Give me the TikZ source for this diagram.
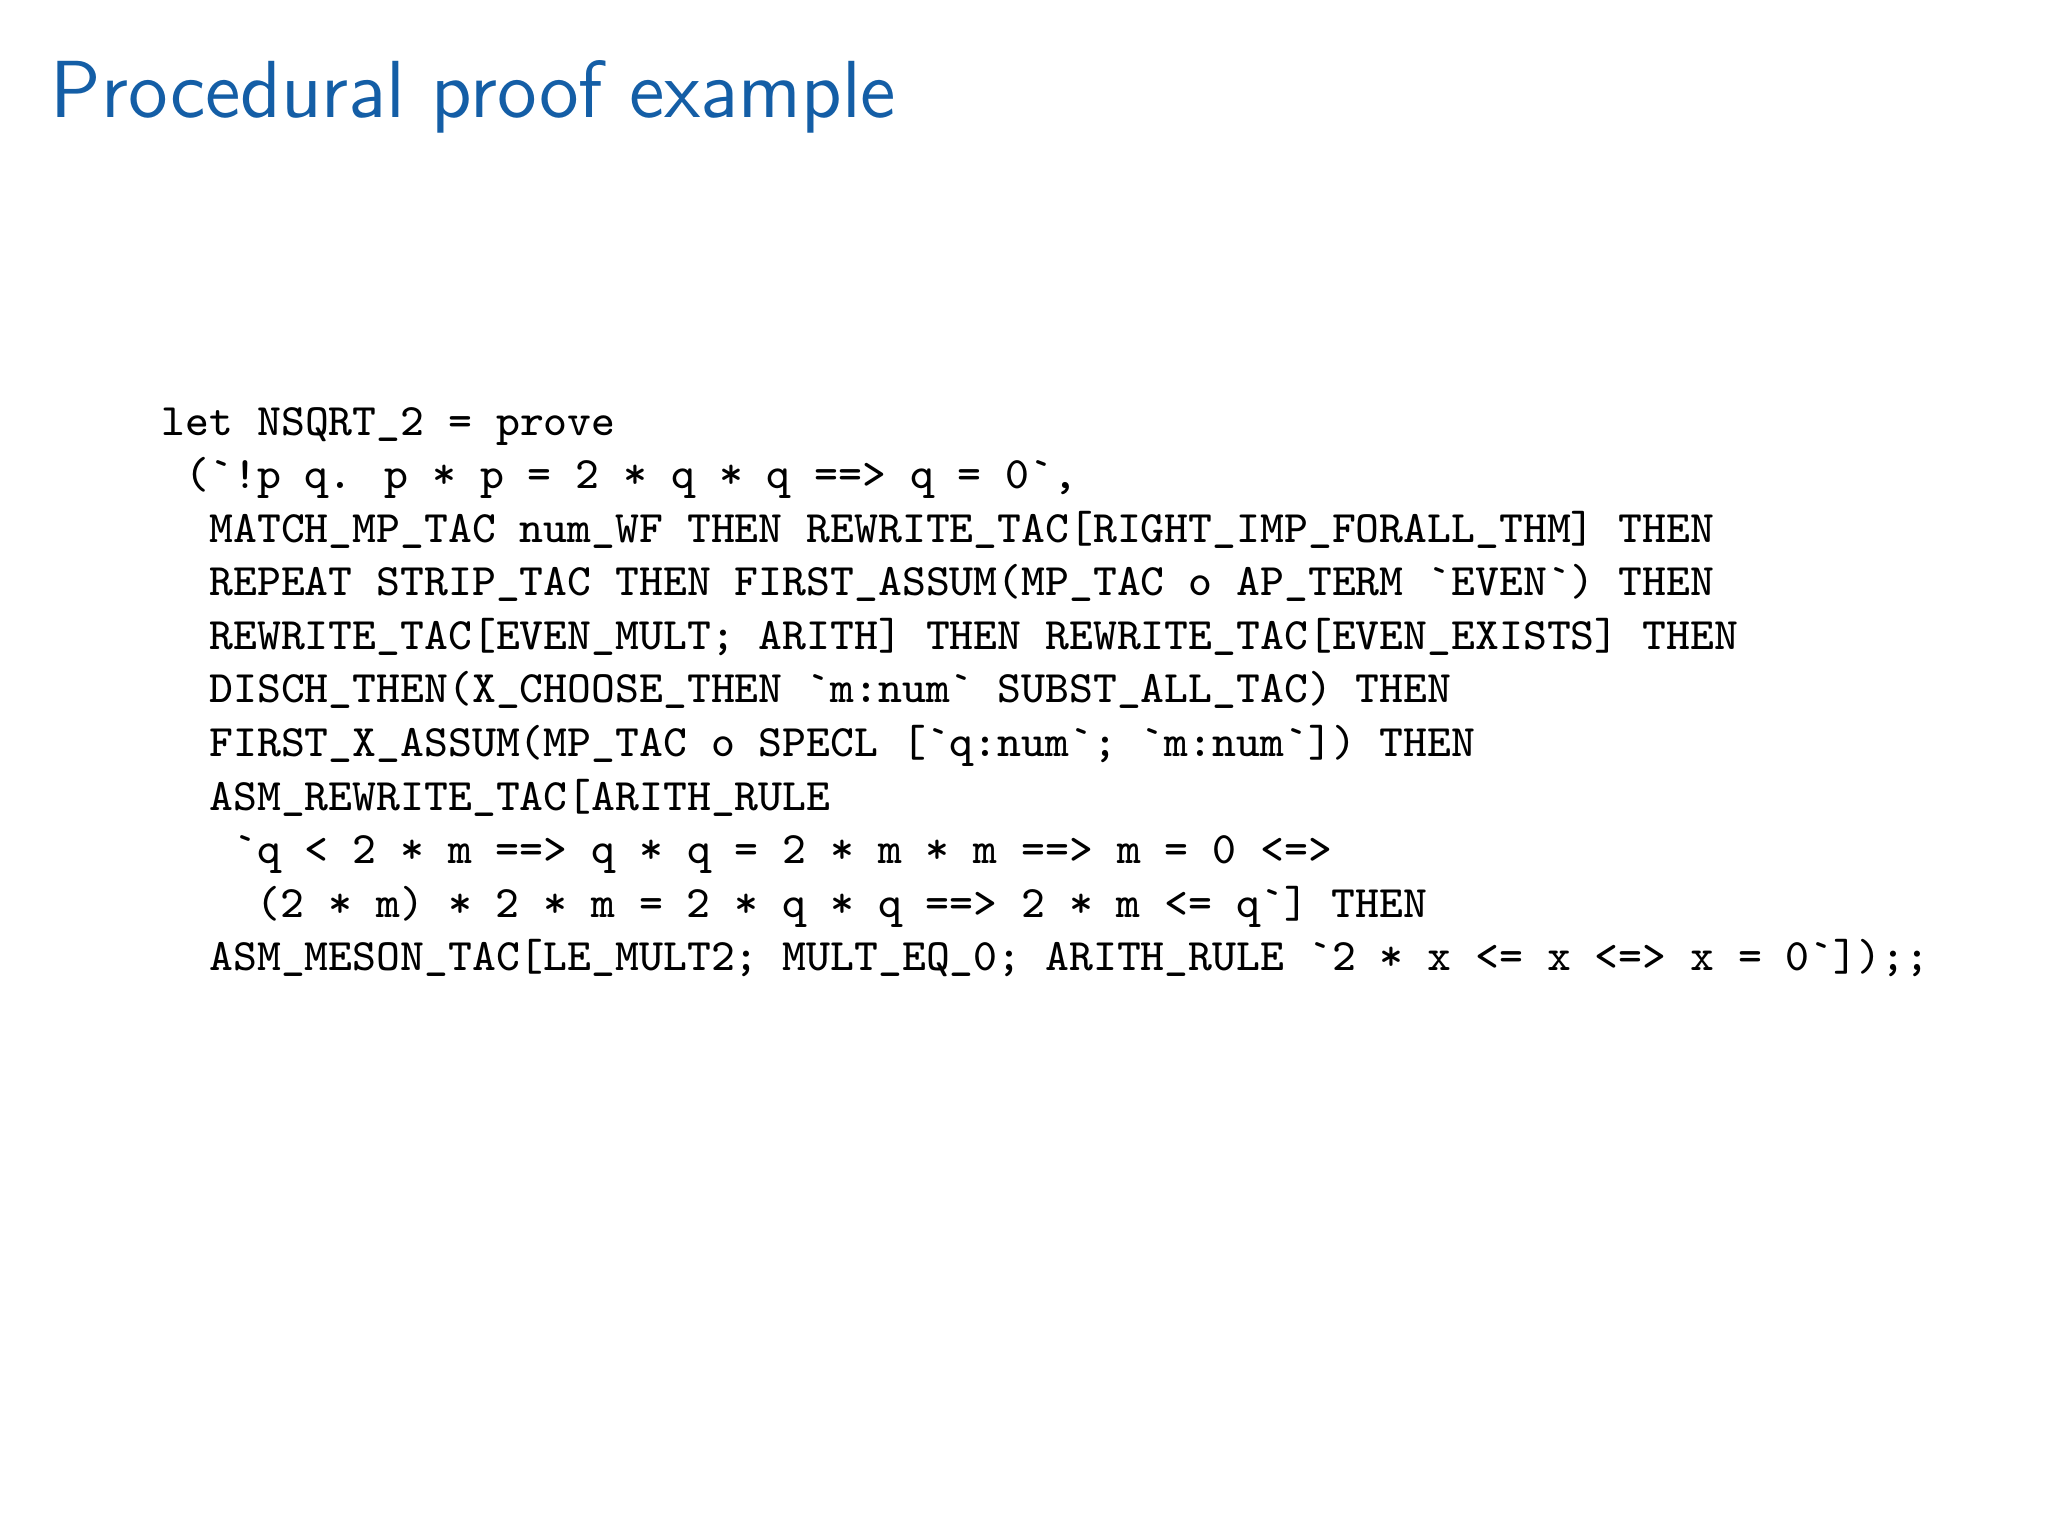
\documentclass[tikz,border=0pt]{standalone}
\definecolor{titleblue}{RGB}{20,94,166}
\begin{document}
\begin{tikzpicture}[x=1cm,y=1cm,
  codeline/.style={anchor=base west,inner sep=0pt,font=\fontsize{8}{9.5}\selectfont\ttfamily}]
\useasboundingbox (0,0) rectangle (12.8,9.6);
\node[anchor=base west,inner sep=0pt,text=titleblue,font=\fontsize{14.4}{17}\selectfont\sffamily] (title) at (0.31,8.865) {Procedural proof example};
\def\cw{0.1487}
\def\lh{0.3347}
\node[codeline] (l1) at ({1.004+0*\cw},{6.88-0*\lh}) {let NSQRT\_2 = prove};
\node[codeline] (l2) at ({1.004+1*\cw},{6.88-1*\lh}) {(`!p q. p * p = 2 * q * q ==> q = 0`,};
\node[codeline] (l3) at ({1.004+2*\cw},{6.88-2*\lh}) {MATCH\_MP\_TAC num\_WF THEN REWRITE\_TAC[RIGHT\_IMP\_FORALL\_THM] THEN};
\node[codeline] (l4) at ({1.004+2*\cw},{6.88-3*\lh}) {REPEAT STRIP\_TAC THEN FIRST\_ASSUM(MP\_TAC o AP\_TERM `EVEN`) THEN};
\node[codeline] (l5) at ({1.004+2*\cw},{6.88-4*\lh}) {REWRITE\_TAC[EVEN\_MULT; ARITH] THEN REWRITE\_TAC[EVEN\_EXISTS] THEN};
\node[codeline] (l6) at ({1.004+2*\cw},{6.88-5*\lh}) {DISCH\_THEN(X\_CHOOSE\_THEN `m:num` SUBST\_ALL\_TAC) THEN};
\node[codeline] (l7) at ({1.004+2*\cw},{6.88-6*\lh}) {FIRST\_X\_ASSUM(MP\_TAC o SPECL [`q:num`; `m:num`]) THEN};
\node[codeline] (l8) at ({1.004+2*\cw},{6.88-7*\lh}) {ASM\_REWRITE\_TAC[ARITH\_RULE};
\node[codeline] (l9) at ({1.004+3*\cw},{6.88-8*\lh}) {`q < 2 * m ==> q * q = 2 * m * m ==> m = 0 <=>};
\node[codeline] (l10) at ({1.004+4*\cw},{6.88-9*\lh}) {(2 * m) * 2 * m = 2 * q * q ==> 2 * m <= q`] THEN};
\node[codeline] (l11) at ({1.004+2*\cw},{6.88-10*\lh}) {ASM\_MESON\_TAC[LE\_MULT2; MULT\_EQ\_0; ARITH\_RULE `2 * x <= x <=> x = 0`]);;};
\end{tikzpicture}
\end{document}
